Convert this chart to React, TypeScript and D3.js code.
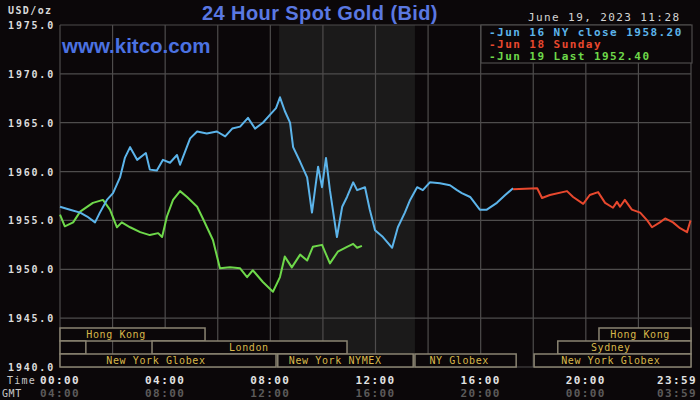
import React from "react";
import * as d3 from "d3";

// minutes after 00:00 NY time, price
const jun16: [number, number][] = [
  [0, 1956.4], [23, 1956.1], [46, 1955.8], [62, 1955.4], [80, 1954.8], [91, 1955.8],
  [107, 1957.1], [121, 1957.8], [137, 1959.4], [148, 1961.4], [160, 1962.5], [176, 1961.2],
  [196, 1961.9], [205, 1960.2], [221, 1960.1], [235, 1961.2], [251, 1960.9], [267, 1961.7],
  [274, 1960.7], [285, 1962.0], [297, 1963.4], [313, 1964.1], [335, 1963.9], [358, 1964.1],
  [377, 1963.6], [393, 1964.4], [411, 1964.6], [429, 1965.5], [445, 1964.4], [463, 1965.0],
  [479, 1965.8], [493, 1966.5], [502, 1967.6], [513, 1966.2], [525, 1965.0], [532, 1962.5],
  [548, 1961.0], [564, 1959.4], [575, 1955.8], [589, 1960.5], [598, 1958.4], [607, 1961.4],
  [616, 1958.1], [632, 1953.3], [644, 1956.4], [655, 1957.4], [669, 1958.9], [678, 1958.1],
  [696, 1958.4], [707, 1956.1], [719, 1954.0], [737, 1953.3], [758, 1952.2], [771, 1954.3],
  [787, 1955.8], [799, 1957.1], [815, 1958.4], [828, 1958.1], [844, 1958.9], [867, 1958.8],
  [890, 1958.6], [906, 1958.1], [917, 1957.8], [936, 1957.4], [958, 1956.1], [974, 1956.1],
  [997, 1956.8], [1016, 1957.6], [1034, 1958.3],
];

const jun18: [number, number][] = [
  [1034, 1958.2], [1089, 1958.3], [1100, 1957.3], [1118, 1957.6], [1157, 1958.0], [1171, 1957.4],
  [1194, 1956.7], [1209, 1957.6], [1228, 1957.9], [1244, 1956.8], [1262, 1956.3], [1271, 1956.9],
  [1278, 1956.4], [1289, 1957.1], [1305, 1956.1], [1324, 1955.8], [1340, 1955.0], [1351, 1954.3],
  [1369, 1954.8], [1381, 1955.2], [1399, 1954.8], [1415, 1954.2], [1431, 1953.8], [1439, 1955.0],
];

const jun19: [number, number][] = [
  [0, 1955.6], [11, 1954.4], [30, 1954.8], [46, 1955.9], [75, 1956.8], [98, 1957.1],
  [114, 1956.1], [130, 1954.3], [141, 1954.8], [160, 1954.3], [183, 1953.8], [205, 1953.5],
  [224, 1953.7], [233, 1953.3], [244, 1955.4], [258, 1957.1], [274, 1958.0], [290, 1957.4],
  [313, 1956.4], [326, 1955.2], [349, 1953.0], [365, 1950.1], [388, 1950.2], [411, 1950.1],
  [427, 1949.2], [440, 1949.9], [463, 1948.7], [486, 1947.7], [502, 1949.2], [513, 1951.3],
  [529, 1950.2], [548, 1951.5], [564, 1950.9], [577, 1952.3], [598, 1952.5], [616, 1950.6],
  [634, 1951.8], [655, 1952.3], [669, 1952.6], [678, 1952.2], [689, 1952.4],
];

const yTicks = [1940, 1945, 1950, 1955, 1960, 1965, 1970, 1975];
const xGrid = [0, 120, 240, 360, 480, 600, 720, 840, 960, 1080, 1200, 1320, 1440];
const xTicks = [0, 240, 480, 720, 960, 1200, 1439];
const nyLabels = ["00:00", "04:00", "08:00", "12:00", "16:00", "20:00", "23:59"];
const gmtLabels = ["04:00", "08:00", "12:00", "16:00", "20:00", "00:00", "03:59"];

const legendLabels = ["-Jun 16 NY close 1958.20", "-Jun 18 Sunday", "-Jun 19 Last 1952.40"];
const nymexHours: [number, number] = [500, 810];

// row, start, end, label, label centre (minutes)
const sessions: [number, number, number, string, number][] = [
  [0, 0, 331, "Hong Kong", 128],
  [0, 1230, 1440, "Hong Kong", 1324],
  [1, 0, 59, "", 0],
  [1, 210, 655, "London", 431],
  [1, 1136, 1440, "Sydney", 1257],
  [2, 0, 493, "New York Globex", 219],
  [2, 497, 806, "New York NYMEX", 628],
  [2, 810, 1041, "NY Globex", 911],
  [2, 1082, 1440, "New York Globex", 1257],
];

const colors = ["#5cb4ea", "#e8482e", "#6ed84a"];
const mono = "'DejaVu Sans Mono', monospace";
const sans = "Arial, 'Liberation Sans', sans-serif";

export default function App() {
  const x = d3.scaleLinear().domain([0, 1440]).range([60, 691]);
  const y = d3.scaleLinear().domain([1940, 1975]).range([367, 25]);
  const line = d3
    .line<[number, number]>()
    .x((d) => x(d[0]))
    .y((d) => y(d[1]));
  const rowTop = (r: number) => y(1940) - 39 + r * 13;
  const last = xTicks.length - 1;

  return (
    <svg width={700} height={400} style={{ position: "absolute", left: 0, top: 0 }}>
      <rect width={700} height={400} fill="#0b0709" />
      <rect x={x(nymexHours[0])} y={y(1975)} width={x(nymexHours[1]) - x(nymexHours[0])} height={y(1940) - y(1975)} fill="#1b1a1a" />
      {yTicks.map((t) => (
        <line key={"h" + t} x1={x(0)} x2={x(1440)} y1={y(t)} y2={y(t)} stroke="#4e4c4c" strokeWidth={1.2} />
      ))}
      {xGrid.map((t) => (
        <line key={"v" + t} x1={x(t)} x2={x(t)} y1={y(1975)} y2={y(1940)} stroke="#4e4c4c" strokeWidth={1.2} />
      ))}

      {sessions.map(([r, s, e, label, c], i) => (
        <g key={"s" + i}>
          <rect x={x(s)} y={rowTop(r)} width={x(e) - x(s)} height={13} fill="#0b0709" stroke="#8a8472" strokeWidth={1.5} />
          {label && (
            <text x={x(c)} y={rowTop(r) + 10} textAnchor="middle" fill="#d8b84a" fontFamily={mono} fontSize={10} letterSpacing={0.6}>
              {label}
            </text>
          )}
        </g>
      ))}

      <path d={line(jun19) ?? ""} fill="none" stroke={colors[2]} strokeWidth={2} strokeLinejoin="round" />
      <path d={line(jun16) ?? ""} fill="none" stroke={colors[0]} strokeWidth={2} strokeLinejoin="round" />
      <path d={line(jun18) ?? ""} fill="none" stroke={colors[1]} strokeWidth={2} strokeLinejoin="round" />

      <rect x={481} y={25} width={211} height={38} fill="#0b0709" stroke="#4e4c4c" strokeWidth={1.2} />
      {legendLabels.map((l, i) => (
        <text key={l} x={489} y={36 + i * 12} fill={colors[i]} fontFamily={mono} fontWeight="bold" fontSize={11} letterSpacing={1.45}>
          {l}
        </text>
      ))}

      <text x={320} y={20} textAnchor="middle" fill="#5a78e2" fontFamily={sans} fontWeight="bold" fontSize={20} letterSpacing={0.4}>
        24 Hour Spot Gold (Bid)
      </text>
      <text x={62} y={53} fill="#4b72e2" fontFamily={sans} fontWeight="bold" fontSize={20.5}>
        www.kitco.com
      </text>
      <text x={528} y={21} fill="#d4d4d4" fontFamily={mono} fontSize={11} letterSpacing={1.4}>
        June 19, 2023 11:28
      </text>
      <text x={8} y={14} fill="#d8d8d8" fontFamily={mono} fontWeight="bold" fontSize={10} letterSpacing={1.4}>
        USD/oz
      </text>
      {yTicks.map((t) => (
        <text key={"yl" + t} x={55} y={y(t) + 4} textAnchor="end" fill="#dcdcdc" fontFamily={mono} fontWeight="bold" fontSize={10} letterSpacing={1.8}>
          {t.toFixed(1)}
        </text>
      ))}

      <text x={36} y={384} textAnchor="end" fill="#c8c8c8" fontFamily={mono} fontSize={10} letterSpacing={1.2}>
        Time
      </text>
      <text x={2} y={397} fill="#c8c8c8" fontFamily={mono} fontSize={10} letterSpacing={0.6}>
        GMT
      </text>
      {xTicks.map((t, i) => (
        <g key={"xl" + t}>
          <text x={i === last ? 697 : x(t)} y={384} textAnchor={i === last ? "end" : "middle"} fill="#e2e2e2" fontFamily={mono} fontWeight="bold" fontSize={11} letterSpacing={1.4}>
            {nyLabels[i]}
          </text>
          <text x={i === last ? 697 : x(t)} y={397} textAnchor={i === last ? "end" : "middle"} fill="#5c5a5a" fontFamily={mono} fontWeight="bold" fontSize={11} letterSpacing={1.4}>
            {gmtLabels[i]}
          </text>
        </g>
      ))}
    </svg>
  );
}
